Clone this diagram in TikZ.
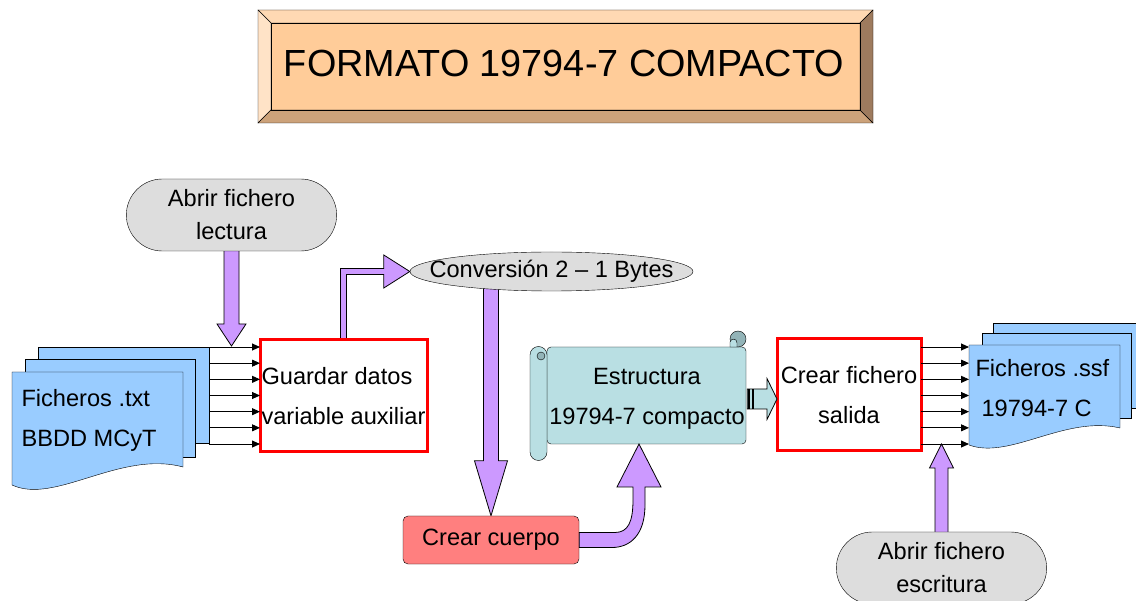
\documentclass[tikz,border=0pt]{standalone}
\usepackage{fontspec}
\setmainfont{Liberation Sans}
\usetikzlibrary{calc,shapes.geometric,shapes.misc,backgrounds,arrows.meta}

\definecolor{melocoton}{HTML}{FFCC99}
\definecolor{melocotonsup}{HTML}{FFD9B3}
\definecolor{melocotonizq}{HTML}{FFE3C7}
\definecolor{melocotoninf}{HTML}{CCA27A}
\definecolor{melocotonder}{HTML}{9E7B5E}
\definecolor{lila}{HTML}{CC99FF}
\definecolor{azulhoja}{HTML}{99CCFF}
\definecolor{gris}{HTML}{DDDDDD}
\definecolor{rosa}{HTML}{FF7F7F}
\definecolor{turquesa}{HTML}{B9DFE3}
\definecolor{turquesaosc}{HTML}{93B4B8}

\tikzset{
  texto/.style={font=\fontsize{23.6pt}{40pt}\selectfont},
  abrir/.style={rounded rectangle, draw, fill=gris, minimum width=217pt,
    minimum height=72pt, align=center, font=\fontsize{23.6pt}{33pt}\selectfont},
  conv/.style={ellipse, draw, fill=gris, minimum width=283pt, minimum height=39pt,
    inner sep=0pt, texto},
  proceso/.style={draw=red, line width=3pt, fill=white, minimum width=167pt,
    minimum height=112pt, inner sep=0pt, outer sep=0pt, texto},
  cuerpo/.style={draw, fill=rosa, rounded corners=5pt, minimum width=176pt,
    minimum height=48pt, texto},
  hoja/.style={draw, fill=azulhoja, inner sep=0pt},
  bloque/.style={draw=black, fill=lila, line width=0.8pt},
  bloqueturq/.style={draw=black, fill=turquesa, line width=0.8pt},
  flechita/.style={-{Triangle[length=8pt,width=7pt]}, line width=0.9pt}
}

% vertical block arrow: style, from, tip, half shaft, half head, head length
\newcommand{\vfat}[6]{%
  \draw[#1] let \p1=(#2), \p2=(#3), \n1={sign(\y2-\y1)*#6} in
    ({\x1-#4},\y1) -- ({\x1-#4},{\y2-(\n1)}) -- ({\x1-#5},{\y2-(\n1)}) -- (\x1,\y2)
    -- ({\x1+#5},{\y2-(\n1)}) -- ({\x1+#4},{\y2-(\n1)}) -- ({\x1+#4},\y1) -- cycle;}
% horizontal block arrow
\newcommand{\hfat}[6]{%
  \draw[#1] let \p1=(#2), \p2=(#3), \n1={sign(\x2-\x1)*#6} in
    (\x1,{\y2-#4}) -- ({\x2-(\n1)},{\y2-#4}) -- ({\x2-(\n1)},{\y2-#5}) -- (\x2,\y2)
    -- ({\x2-(\n1)},{\y2+#5}) -- ({\x2-(\n1)},{\y2+#4}) -- (\x1,{\y2+#4}) -- cycle;}

\begin{document}
\begin{tikzpicture}[x=1pt,y=-1pt]
  \useasboundingbox (0,0) rectangle (1136,601);
  \clip (0,0) rectangle (1136,601);

  % title
  \fill[melocoton] (271,23) rectangle (860,110);
  \filldraw[fill=melocotonsup] (258,10) -- (873,10) -- (860,23) -- (271,23) -- cycle;
  \filldraw[fill=melocotonizq] (258,10) -- (271,23) -- (271,110) -- (258,123) -- cycle;
  \filldraw[fill=melocotoninf] (258,123) -- (271,110) -- (860,110) -- (873,123) -- cycle;
  \filldraw[fill=melocotonder] (873,10) -- (873,123) -- (860,110) -- (860,23) -- cycle;
  \draw (271,23) rectangle (860,110);
  \node[font=\fontsize{37.8pt}{44pt}\selectfont] (titulo) at (564,63) {FORMATO 19794-7 COMPACTO};

  % input files
  \node[hoja, minimum width=171pt, minimum height=96pt] (txtatras) at (123.5,395) {};
  \node[hoja, minimum width=170pt, minimum height=98pt] (txtmedio) at (110,408) {};
  \filldraw[fill=azulhoja] (12,372) -- (183,372) -- (183,467)
    .. controls (120,450) and (55,505) .. (12,485) -- cycle;
  \node[texto, align=left, anchor=west] (txt) at (18,420) {Ficheros .txt\\BBDD MCyT};

  % output files
  \node[hoja, minimum width=165pt, minimum height=85pt] (ssfatras) at (1075.5,365.5) {};
  \node[hoja, minimum width=149pt, minimum height=85pt] (ssfmedio) at (1056.5,375.5) {};
  \filldraw[fill=azulhoja] (969,345) -- (1120,345) -- (1120,428)
    .. controls (1065,415) and (1010,460) .. (969,445) -- cycle;
  \coordinate (ssfizq) at (969,345);
  \node[texto, align=left, anchor=west] (ssf) at (972,388) {Ficheros .ssf\\\hspace{6pt}19794-7 C};

  % scroll
  \filldraw[fill=turquesa, rounded corners=4pt] (547,347) -- (746,347) -- (746,444) -- (547,444) -- cycle;
  \filldraw[fill=turquesaosc] (738,339) circle[radius=8];
  \filldraw[fill=turquesa] (730,347) -- (730,342) .. controls (731,338) and (737,338) .. (737,343) -- (737,347) -- cycle;
  \filldraw[fill=turquesa] (530,355) -- (530,452) arc[start angle=180, end angle=0, radius=8.5]
    -- (547,355) arc[start angle=0, end angle=-180, radius=8.5] -- cycle;
  \filldraw[fill=turquesaosc] (541,356) circle[radius=4];
  \node[texto, align=center, inner sep=0pt, minimum width=200pt, minimum height=96pt]
    (estructura) at (647,399) {Estructura\\19794-7 compacto};

  \node[abrir] (lectura) at (231.5,215) {Abrir fichero\\lectura};
  \node[abrir] (escritura) at (941.5,568) {Abrir fichero\\escritura};
  \node[conv] (conversion) at (551.5,271.5) {\makebox[0pt]{Conversión 2 – 1 Bytes}};
  \node[proceso, align=left] (guardar) at (343.5,396) {Guardar datos\\variable auxiliar};
  \node[proceso, align=center, minimum width=144pt] (fichero) at (849,395) {Crear fichero\\salida};
  \node[cuerpo] (crear) at (491,540) {Crear cuerpo};

  \coordinate (lecturapunta) at (231.5,346);
  \coordinate (escriturapunta) at (941.5,444);
  \coordinate (estructurapunta) at (639,444);
  \coordinate (ficheropunta) at (fichero.west |- estructura.east);

  \begin{scope}[on background layer]
    \vfat{bloque}{lectura.center}{lecturapunta}{7.5pt}{14.5pt}{22pt}
    \vfat{bloque}{escritura.center}{escriturapunta}{6.5pt}{12pt}{24pt}
    \vfat{bloque}{crear.north |- conversion.center}{crear.north}{7.5pt}{16.5pt}{55pt}
    \draw[bloque] let \p1=(guardar.center), \p2=(conversion.west) in
      ({\x1-3pt},\y1) |- ({\x2-26pt},{\y2+3pt}) -- ({\x2-26pt},{\y2+16.5pt}) -- (\p2)
      -- ({\x2-26pt},{\y2-16.5pt}) -- ({\x2-26pt},{\y2-3pt}) -| ({\x1+3pt},\y1) -- cycle;
  \end{scope}

  \draw[bloque] let \p1=(crear.east), \p2=(estructurapunta) in
    (\x1,{\y1+7.5pt}) -- ({\x2-24pt},{\y1+7.5pt})
    .. controls ({\x2-11pt},{\y1+7.5pt}) and ({\x2-6pt},{\y1+18pt}) .. ({\x2-6pt},{\y1+40pt})
    -- ({\x2-6pt},{\y2-43pt}) -- ({\x2-22pt},{\y2-43pt}) -- (\p2)
    -- ({\x2+22pt},{\y2-43pt}) -- ({\x2+6pt},{\y2-43pt}) -- ({\x2+6pt},{\y1+35pt})
    .. controls ({\x2+6pt},{\y1+5pt}) and ({\x2-9pt},{\y1-7.5pt}) .. ({\x2-27pt},{\y1-7.5pt})
    -- (\x1,{\y1-7.5pt}) -- cycle;

  \hfat{bloqueturq}{estructura.east}{ficheropunta}{10pt}{20.5pt}{10pt}
  \draw[line width=2pt] let \p1=(estructura.east) in
    ({\x1+1.5pt},{\y1-10pt}) -- ({\x1+1.5pt},{\y1+10pt})
    ({\x1+5.5pt},{\y1-10pt}) -- ({\x1+5.5pt},{\y1+10pt});

  \foreach \i in {0,...,6}{
    \coordinate (ent\i) at ($(guardar.north west)+(0,7+16.17*\i)$);
    \draw[flechita] (txtatras.east |- ent\i) -- (ent\i);
    \coordinate (sal\i) at ($(fichero.north east)+(0,8+16.17*\i)$);
    \draw[flechita] (sal\i) -- (ssfizq |- sal\i);
  }
\end{tikzpicture}
\end{document}
